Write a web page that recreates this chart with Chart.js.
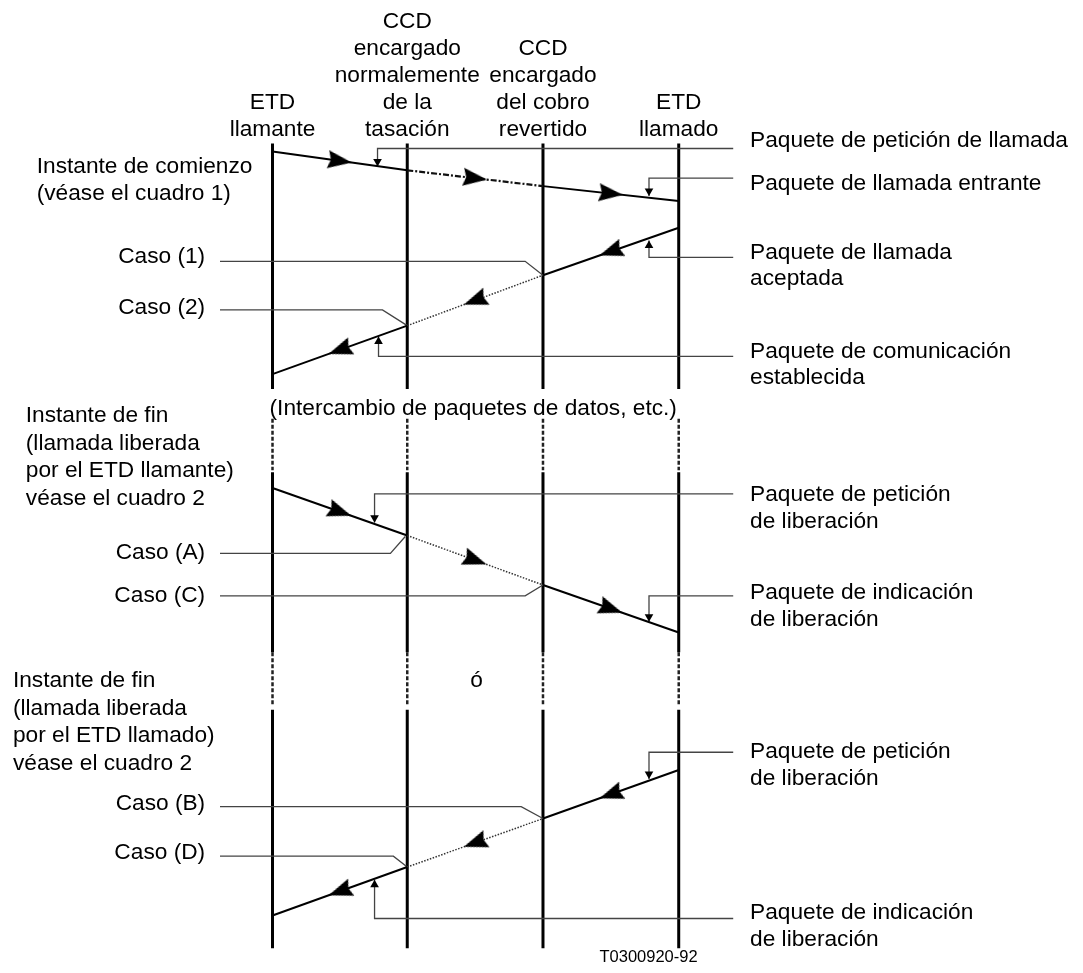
<!DOCTYPE html>
<html lang="es">
<head>
<meta charset="utf-8">
<title>Paquetes de llamada con cobro revertido</title>
<script src="https://cdn.jsdelivr.net/npm/chart.js@4.4.1/dist/chart.umd.min.js"></script>
<style>
  html, body { margin: 0; padding: 0; background: #fff; }
  #wrap { width: 1083px; height: 973px; }
</style>
</head>
<body>
<div id="wrap"><canvas id="diagram" width="1083" height="973"></canvas></div>
<script>
// Líneas de vida (ETD llamante, CCD tasación, CCD cobro revertido, ETD llamado)
const lifelineX = [270, 406, 543, 680];
const lifelineNames = [
  ['ETD', 'llamante'],
  ['CCD', 'encargado', 'normalemente', 'de la', 'tasación'],
  ['CCD', 'encargado', 'del cobro', 'revertido'],
  ['ETD', 'llamado']
];
// tramos verticales: inicio, fin, tipo
const lifelineSpans = [[140, 388, 'solid'], [418, 470, 'dash'], [472, 654, 'solid'], [654, 708, 'dash'], [712, 953, 'solid']];

// altura de cada paquete al cruzar cada línea de vida (izquierda -> derecha)
const callRequestY = [148, 167, 183, 198];
const callAcceptedY = [373, 324, 273, 225];
const clearFromCallerY = [488, 536, 586, 634];
const clearFromCalledY = [920, 871, 822, 773];

// etiquetas de paquetes (derecha)
const packetLabels = [
  ['Paquete de petición de llamada'],
  ['Paquete de llamada entrante'],
  ['Paquete de llamada', 'aceptada'],
  ['Paquete de comunicación', 'establecida'],
  ['Paquete de petición', 'de liberación'],
  ['Paquete de indicación', 'de liberación'],
  ['Paquete de petición', 'de liberación'],
  ['Paquete de indicación', 'de liberación']
];
const packetLeaderY = [145, 175, 255, 355, 494, 597, 755, 923];
const packetLeaderX = [376, 650, 650, 377, 373, 650, 650, 373];
const packetTipY = [163, 193, 238, 335, 523, 623, 782, 884];
const packetTextY = [137, 181, 250, 350, 495, 594, 755, 917];

// casos (izquierda)
const caseLabels = ['Caso (1)', 'Caso (2)', 'Caso (A)', 'Caso (C)', 'Caso (B)', 'Caso (D)'];
const caseLeaderY = [259, 308, 554, 597, 810, 860];
const caseBendX = [525, 381, 389, 525, 521, 392];
const caseTarget = [[543, 273], [406, 324], [404, 537], [543, 586], [543, 822], [406, 871]];
const caseTextY = [254, 306, 553, 597, 807, 857];

const leftNotes = [
  { lines: ['Instante de comienzo', '(véase el cuadro 1)'], x: 32, y: 163 },
  { lines: ['Instante de fin', '(llamada liberada', 'por el ETD llamante)', 'véase el cuadro 2'], x: 21, y: 415 },
  { lines: ['Instante de fin', '(llamada liberada', 'por el ETD llamado)', 'véase el cuadro 2'], x: 8, y: 683 }
];

const FONT = '22.7px "Liberation Sans", Arial, sans-serif';
const LEADER = '#444';

// punta de flecha grande (apunta a la derecha)
const arrowImg = document.createElement('canvas');
arrowImg.width = 24;
arrowImg.height = 18;
const ac = arrowImg.getContext('2d');
ac.fillStyle = '#000';
ac.beginPath();
ac.moveTo(24, 9);
ac.lineTo(0, 0);
ac.lineTo(3, 9);
ac.lineTo(0, 18);
ac.closePath();
ac.fill();

const line = (points, style, order) => Object.assign({
  data: points, showLine: true, pointRadius: 0, fill: false, tension: 0,
  borderColor: '#000', borderWidth: 2, order: order, clip: false
}, style);

const datasets = [];

// líneas de vida
lifelineX.forEach(x => {
  lifelineSpans.forEach(([a, b, kind]) => {
    const st = kind === 'solid'
      ? { borderWidth: 3, borderColor: '#000' }
      : { borderWidth: 2.5, borderColor: '#222', borderDash: [4, 2] };
    datasets.push(line([{ x: x, y: a }, { x: x, y: b }], st, 4));
  });
});

// paquetes
const messages = [
  { y: callRequestY, dir: 1, mid: { borderWidth: 2.2, borderColor: '#111', borderDash: [6, 2, 2, 2] } },
  { y: callAcceptedY, dir: -1, mid: { borderWidth: 1.5, borderColor: '#333', borderDash: [1.5, 1.5] } },
  { y: clearFromCallerY, dir: 1, mid: { borderWidth: 1.5, borderColor: '#333', borderDash: [1.5, 1.5] } },
  { y: clearFromCalledY, dir: -1, mid: { borderWidth: 1.5, borderColor: '#333', borderDash: [1.5, 1.5] } }
];
const arrowPoints = [];
messages.forEach(m => {
  for (let i = 0; i < 3; i++) {
    const p0 = { x: lifelineX[i], y: m.y[i] };
    const p1 = { x: lifelineX[i + 1], y: m.y[i + 1] };
    datasets.push(line([p0, p1], i === 1 ? m.mid : { borderWidth: 2 }, 2));
    const dx = (p1.x - p0.x) * m.dir;
    const dy = (p1.y - p0.y) * m.dir;
    arrowPoints.push({ x: (p0.x + p1.x) / 2, y: (p0.y + p1.y) / 2, angle: Math.atan2(dy, dx) * 180 / Math.PI });
  }
});
datasets.push({
  data: arrowPoints, showLine: false, pointStyle: arrowImg, order: 0, clip: false,
  pointRotation: ctx => ctx.raw ? ctx.raw.angle : 0
});

// líneas de referencia de los paquetes
const smallArrows = [];
packetLabels.forEach((lbl, i) => {
  const lx = packetLeaderX[i];
  datasets.push(line([{ x: 735, y: packetLeaderY[i] }, { x: lx, y: packetLeaderY[i] }, { x: lx, y: packetTipY[i] }],
    { borderWidth: 1.3, borderColor: LEADER }, 3));
  const down = packetTipY[i] > packetLeaderY[i];
  smallArrows.push({ x: lx, y: packetTipY[i] + (down ? -5 : 5), rot: down ? 180 : 0 });
});
datasets.push({
  data: smallArrows, showLine: false, pointStyle: 'triangle', pointRadius: 5, order: 1, clip: false,
  backgroundColor: '#000', borderColor: '#000', borderWidth: 0,
  pointRotation: ctx => ctx.raw ? ctx.raw.rot : 0
});

// líneas de los casos
caseLabels.forEach((c, i) => {
  datasets.push(line([{ x: 217, y: caseLeaderY[i] }, { x: caseBendX[i], y: caseLeaderY[i] }, { x: caseTarget[i][0], y: caseTarget[i][1] }],
    { borderWidth: 1.3, borderColor: LEADER }, 3));
});

// textos
const textPlugin = {
  id: 'texts',
  afterDraw(chart) {
    const ctx = chart.ctx;
    const px = v => chart.scales.x.getPixelForValue(v);
    const py = v => chart.scales.y.getPixelForValue(v);
    ctx.save();
    ctx.fillStyle = '#000';
    ctx.font = FONT;
    ctx.textBaseline = 'middle';

    // cabeceras
    ctx.textAlign = 'center';
    lifelineNames.forEach((lines, i) => {
      lines.forEach((t, j) => {
        ctx.fillText(t, px(lifelineX[i]), py(126 - (lines.length - 1 - j) * 27.3));
      });
    });

    // notas izquierda
    ctx.textAlign = 'left';
    leftNotes.forEach(n => n.lines.forEach((t, j) => ctx.fillText(t, px(n.x), py(n.y + j * 27.8))));

    // casos
    ctx.textAlign = 'right';
    caseLabels.forEach((t, i) => ctx.fillText(t, px(202), py(caseTextY[i])));

    // paquetes
    ctx.textAlign = 'left';
    packetLabels.forEach((lines, i) => lines.forEach((t, j) => ctx.fillText(t, px(752), py(packetTextY[i] + j * 27))));

    ctx.fillText('(Intercambio de paquetes de datos, etc.)', px(267), py(408));
    ctx.textAlign = 'center';
    ctx.fillText('ó', px(476), py(683));

    ctx.textAlign = 'left';
    ctx.font = '16.5px "Liberation Sans", Arial, sans-serif';
    ctx.fillText('T0300920-92', px(600), py(962));
    ctx.restore();
  }
};

new Chart(document.getElementById('diagram').getContext('2d'), {
  type: 'scatter',
  data: { datasets: datasets },
  options: {
    responsive: false,
    animation: false,
    events: [],
    layout: { padding: 0 },
    plugins: { legend: { display: false }, tooltip: { enabled: false } },
    scales: {
      x: { type: 'linear', min: 0, max: 1083, display: false },
      y: { type: 'linear', min: 0, max: 973, reverse: true, display: false }
    }
  },
  plugins: [textPlugin]
});
</script>
</body>
</html>
